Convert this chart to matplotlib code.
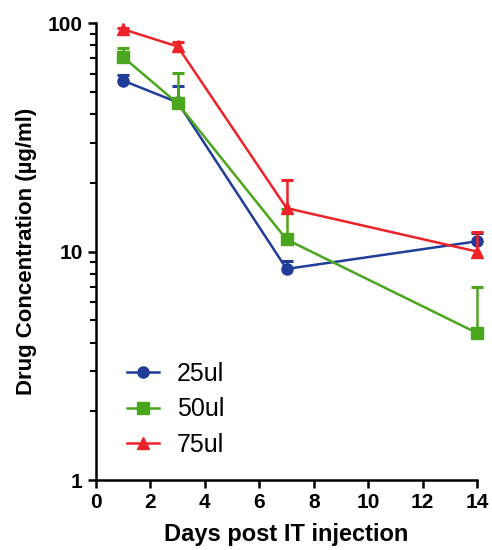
import matplotlib
matplotlib.use('Agg')
import matplotlib.pyplot as plt
from matplotlib.ticker import LogLocator, FixedLocator, NullFormatter
import numpy as np

plt.rcParams['font.family'] = ['Liberation Sans', 'DejaVu Sans']

# Days post injection and mean concentration (+ upper SD) per volume
days = [1, 3, 7, 14]
labels = ['25ul', '50ul', '75ul']
conc_25 = [56, 45, 8.4, 11.1]
err_25 = [3, 8, 0.7, 1.0]
conc_50 = [71, 44.5, 11.3, 4.4]
err_50 = [7, 16, 4, 2.6]
conc_75 = [94, 79, 15.5, 10.0]
err_75 = [1, 4, 5, 2.2]

colors = ['#1f3d99', '#4aa61c', '#ee2229']
markers = ['o', 's', '^']

fig = plt.figure(figsize=(4.92, 5.5), dpi=100)
ax = fig.add_axes([0.195, 0.127, 0.775, 0.831])

series = [(conc_25, err_25), (conc_50, err_50), (conc_75, err_75)]
for i, ((vals, err), lab, col, mk) in enumerate(zip(series, labels, colors, markers)):
    vals = np.array(vals)
    top = vals + np.array(err)
    # upper-only error bars with a cap at the top
    ax.vlines(days, vals, top, color=col, linewidth=1.8, zorder=2 + i,
              clip_on=False)
    ax.plot(days, top, linestyle='none', marker='_', markersize=9,
            markeredgewidth=2.2, color=col, zorder=2 + i, clip_on=False)
    ax.plot(days, vals, color=col, marker=mk, markersize=8, linewidth=1.8,
            label=lab, zorder=2 + i, clip_on=False)

ax.set_yscale('log')
ax.set_ylim(1, 100)
ax.set_xlim(0, 14)
ax.set_xticks(np.arange(0, 15, 2))
ax.yaxis.set_major_locator(FixedLocator([1, 10, 100]))
ax.set_yticklabels(['1', '10', '100'])
ax.yaxis.set_minor_locator(LogLocator(base=10, subs=np.arange(2, 10)))
ax.yaxis.set_minor_formatter(NullFormatter())

for side in ['top', 'right']:
    ax.spines[side].set_visible(False)
for side in ['left', 'bottom']:
    ax.spines[side].set_linewidth(1.8)

ax.tick_params(axis='both', which='major', length=6, width=1.8,
               labelsize=15)
ax.tick_params(axis='y', which='minor', length=4, width=1.5)
for lbl in ax.get_xticklabels() + ax.get_yticklabels():
    lbl.set_fontweight('bold')

ax.set_xlabel('Days post IT injection', fontsize=17, fontweight='bold', labelpad=8)
ax.set_ylabel('Drug Concentration (µg/ml)', fontsize=16, fontweight='bold', labelpad=8)

ax.legend(loc='center left', bbox_to_anchor=(0.081, 0.155), frameon=False,
          fontsize=18, handlelength=1.3, labelspacing=0.45, handletextpad=0.7,
          borderpad=0, borderaxespad=0)

fig.savefig('out.png', dpi=100)
